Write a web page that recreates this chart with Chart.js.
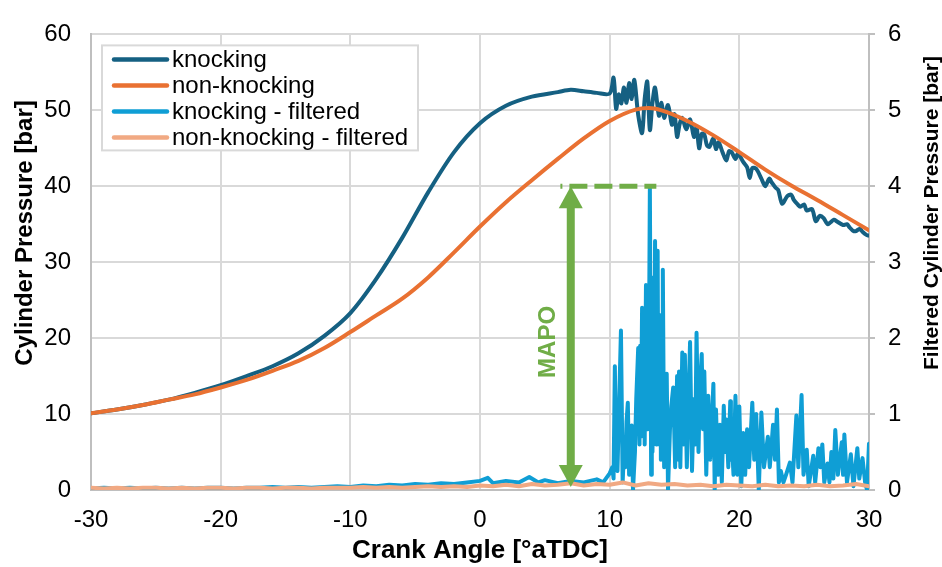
<!DOCTYPE html>
<html lang="en">
<head>
<meta charset="UTF-8">
<title>Cylinder pressure - knocking vs non-knocking</title>
<style>
  body { margin: 0; background: #fff; }
  canvas { display: block; }
</style>
</head>
<body>
<canvas id="pressureChart" width="942" height="567"></canvas>
<script src="https://cdn.jsdelivr.net/npm/chart.js@4"></script>
<script>
// tick labels
const xTicks = [-30, -20, -10, 0, 10, 20, 30];
const leftTicks = [0, 10, 20, 30, 40, 50, 60];
const rightTicks = [0, 1, 2, 3, 4, 5, 6];

// cylinder pressure, knocking cycle [bar]
const knockAngles = [-30, -28, -26, -24, -22, -20, -18, -16, -14, -12, -10, -8, -6, -4, -2, 0, 2, 4, 6, 7, 8, 9, 10,
  10.3, 10.5, 10.7, 10.9, 11.1, 11.3, 11.5, 11.7, 11.9, 12.2, 12.5, 12.7, 12.9, 13.1, 13.3, 13.5, 13.8, 14.0, 14.2, 14.5,
  14.8, 15.0, 15.2, 15.4, 15.6, 15.9, 16.2, 16.5, 16.7, 16.9, 17.1, 17.3, 17.5, 17.7, 18.0, 18.2, 18.4, 18.7, 19.0, 19.2,
  19.4, 19.7, 19.9, 20.3, 20.6, 20.8, 21.0, 21.3, 21.7, 22.0, 22.3, 22.5, 22.8, 23.0, 23.3, 23.7, 24.0, 24.2, 24.5, 24.7,
  25.0, 25.2, 25.6, 25.9, 26.2, 26.5, 26.8, 27.0, 27.3, 27.5, 28.0, 28.3, 28.5, 28.8, 29.0, 29.3, 29.5, 29.8, 30.0];
const knockPressure = [10.1, 10.6, 11.2, 11.9, 12.8, 13.8, 15.0, 16.3, 18.0, 20.3, 23.3, 27.8, 33.2, 39.2, 44.5, 48.3, 50.6, 51.8, 52.4, 52.7, 52.5, 52.3, 52.2,
  54.3, 50.2, 52.1, 50.9, 53.0, 51.0, 53.6, 51.5, 54.0, 49.4, 47.0, 51.5, 53.8, 47.4, 51.0, 53.0, 49.3, 51.0, 49.0, 50.7,
  48.1, 49.5, 46.5, 48.2, 49.0, 47.5, 48.8, 46.5, 47.8, 45.0, 46.9, 46.8, 45.4, 45.2, 46.3, 44.9, 45.8, 44.5, 43.4, 44.6,
  44.5, 43.6, 44.3, 43.2, 42.5, 41.1, 42.4, 42.3, 41.0, 40.0, 41.0, 40.5, 39.8, 39.5, 37.7, 38.7, 38.9, 38.2, 37.6, 37.3,
  37.6, 36.8, 37.0, 35.4, 36.1, 35.8, 35.0, 35.2, 35.6, 35.4, 34.9, 35.0, 34.6, 34.1, 34.1, 34.4, 34.0, 33.6, 33.5];

// cylinder pressure, non-knocking cycle [bar]
const nonKnockAngles = [-30, -28, -26, -24, -22, -20, -18, -16, -14, -12, -10, -8, -6, -4, -2, 0, 2, 4, 6, 8, 10, 12, 13, 14, 16, 18, 20, 22, 24, 26, 28, 30];
const nonKnockPressure = [10.1, 10.6, 11.2, 11.9, 12.6, 13.5, 14.5, 15.7, 17.0, 18.7, 20.8, 23.0, 25.2, 28.0, 31.3, 34.7, 37.9, 40.8, 43.6, 46.3, 48.6, 50.1, 50.3, 50.0, 48.6, 46.7, 44.5, 42.2, 40.1, 38.2, 36.2, 34.2];

// band-pass filtered pressure, knocking cycle [bar]
const knockFiltAngles = [-30, -29, -28, -27, -26, -25, -24, -23, -22, -21, -20, -19, -18, -17, -16, -15, -14, -13, -12, -11,
  -10, -9, -8, -7, -6, -5, -4, -3, -2, -1,
  0, 0.6, 1, 2, 3, 3.8, 4.5, 5, 6, 7, 8, 9, 9.5, 10, 10.2, 10.3, 10.4, 10.5, 10.6, 10.87,
  11.0, 11.1, 11.2, 11.3, 11.4, 11.5, 11.6, 11.7, 11.8, 11.95, 12.05, 12.2, 12.3, 12.35, 12.4, 12.5, 12.6, 12.65, 12.7, 12.8,
  12.9, 12.95, 13.0, 13.1, 13.2, 13.25, 13.3, 13.35, 13.4, 13.45, 13.5, 13.6, 13.65, 13.7, 13.75, 13.8, 13.85, 13.9, 13.95, 14.0,
  14.05, 14.1, 14.2, 14.3, 14.4, 14.5, 14.65, 14.75, 14.9, 15.05, 15.2, 15.3, 15.35, 15.45, 15.6, 15.7, 15.8, 15.95, 16.05, 16.2,
  16.35, 16.5, 16.6, 16.7, 16.85, 16.95,
  17.1, 17.2, 17.3, 17.45, 17.6, 17.75, 18.0, 18.1, 18.2, 18.35, 18.5, 18.65, 18.8, 18.9, 19.0, 19.15, 19.3, 19.35, 19.4,
  19.55, 19.7, 19.85, 20.0, 20.15, 20.3, 20.45, 20.6, 20.75, 21.0, 21.15, 21.3, 21.5, 21.7, 21.9, 22.2, 22.35, 22.6, 22.75, 22.9,
  23.05, 23.2, 23.4, 23.6, 23.9, 24.1, 24.4, 24.55, 24.8, 24.95, 25.2, 25.35, 25.7, 25.85, 26.1, 26.25, 26.4, 26.55, 26.8, 26.95,
  27.1, 27.25, 27.4, 27.6, 27.9, 28.0, 28.1, 28.3, 28.6, 28.8, 29.1, 29.25, 29.5, 29.7, 29.85, 30.0];
const knockFiltered = [0.02, 0.03, 0.02, 0.03, 0.02, 0.03, 0.02, 0.03, 0.02, 0.03, 0.03, 0.02, 0.03, 0.03, 0.04, 0.03, 0.04, 0.03, 0.04, 0.05,
  0.04, 0.06, 0.05, 0.07, 0.06, 0.08, 0.07, 0.09, 0.08, 0.10,
  0.12, 0.16, 0.09, 0.12, 0.10, 0.17, 0.10, 0.13, 0.09, 0.12, 0.10, 0.14, 0.10, 0.22, 0.30, 0.15, 1.63, 0.30, 0.25, 2.10,
  0.10, 0.50, 0.30, 0.90, 1.15, 0.20, 0.70, 0.85, 0.00, 0.50, 1.20, 1.87, 0.60, 1.90, 0.70, 2.40, 0.90, 2.20, 0.60, 2.70,
  0.80, 2.50, 0.90, 4.00, 0.20, 2.80, 0.50, 1.00, 2.60, 0.80, 3.28, 0.60, 2.20, 3.15, 1.00, 2.00, 0.60, 2.30, 0.40, 1.80,
  0.50, 2.90, 0.30, 1.20, 1.53, 0.00, 0.80, 1.10, 1.35, 0.30, 1.50, 0.40, 1.56, 0.30, 1.81, 0.60, 1.78, 0.30, 1.00, 1.95,
  0.25, 1.20, 0.60, 2.07, 0.50, 1.30,
  1.79, 0.80, 1.56, 0.20, 1.24, 0.40, 1.40, 0.00, 1.06, 0.20, 0.86, 0.10, 1.11, 0.50, 0.93, 0.30, 1.17, 0.40, 0.73,
  0.20, 1.24, 0.20, 1.10, 0.05, 0.75, 0.20, 0.80, 0.30, 1.15, 0.40, 1.00, 0.00, 1.02, 0.30, 0.70, 0.30, 0.86, 0.40, 1.06,
  0.10, 0.25, 0.10, 0.20, 0.36, 0.10, 0.98, 0.30, 1.25, 0.20, 0.53, 0.05, 0.45, 0.10, 0.55, 0.30, 0.60, 0.10, 0.35, 0.10,
  0.50, 0.15, 0.79, 0.20, 0.63, 0.20, 0.73, 0.10, 0.47, 0.05, 0.55, 0.15, 0.42, 0.10, 0.00, 0.61];

// band-pass filtered pressure, non-knocking cycle [bar], one value per degree
const nonKnockFiltAngles = Array.from({length: 61}, (_, i) => i - 30);
const nonKnockFiltered = [0.03, 0.02, 0.03, 0.02, 0.03, 0.03, 0.02, 0.03, 0.02, 0.03,
  0.03, 0.02, 0.03, 0.03, 0.02, 0.03, 0.03, 0.02, 0.03, 0.03,
  0.03, 0.04, 0.03, 0.04, 0.03, 0.04, 0.05, 0.04, 0.05, 0.04,
  0.06, 0.05, 0.07, 0.05, 0.08, 0.06, 0.07, 0.09, 0.06, 0.08,
  0.07, 0.10, 0.06, 0.09, 0.07, 0.08, 0.06, 0.07, 0.05, 0.07,
  0.06, 0.05, 0.07, 0.05, 0.06, 0.05, 0.07, 0.05, 0.06, 0.08,
  0.05];

// MAPO marker (crank angle / bar on the left axis)
const mapoAngle = 7.0;
const mapoLevel = 40;
const mapoDashFrom = 6.2;
const mapoDashTo = 13.6;

const green = '#70AD47';
const fontFamily = "'Liberation Sans', Arial, sans-serif";
Chart.defaults.font.family = fontFamily;
Chart.defaults.color = '#000';

function pairs(xs, ys) {
  return xs.map((x, i) => ({x: x, y: ys[i]}));
}

const overlay = {
  id: 'overlay',
  afterDatasetsDraw(chart) {
    const ctx = chart.ctx;
    const x = chart.scales.x, y = chart.scales.y;
    const area = chart.chartArea;
    ctx.save();

    // dashed level line
    const lvl = y.getPixelForValue(mapoLevel);
    ctx.strokeStyle = green;
    ctx.lineWidth = 5;
    ctx.setLineDash([18, 7]);
    ctx.lineDashOffset = 16;
    ctx.beginPath();
    ctx.moveTo(x.getPixelForValue(mapoDashFrom), lvl);
    ctx.lineTo(x.getPixelForValue(mapoDashTo), lvl);
    ctx.stroke();

    // double arrow
    const ax = x.getPixelForValue(mapoAngle);
    const bot = y.getPixelForValue(0.4);
    const head = 22, half = 12;
    ctx.setLineDash([]);
    ctx.lineWidth = 8;
    ctx.beginPath();
    ctx.moveTo(ax, lvl + head - 2);
    ctx.lineTo(ax, bot - head + 2);
    ctx.stroke();
    ctx.fillStyle = green;
    ctx.beginPath();
    ctx.moveTo(ax, lvl);
    ctx.lineTo(ax - half, lvl + head);
    ctx.lineTo(ax + half, lvl + head);
    ctx.closePath();
    ctx.fill();
    ctx.beginPath();
    ctx.moveTo(ax, bot);
    ctx.lineTo(ax - half, bot - head);
    ctx.lineTo(ax + half, bot - head);
    ctx.closePath();
    ctx.fill();

    // MAPO label
    ctx.save();
    ctx.translate(ax - 23, y.getPixelForValue(19.5));
    ctx.rotate(-Math.PI / 2);
    ctx.font = 'bold 24px ' + fontFamily;
    ctx.textAlign = 'center';
    ctx.textBaseline = 'middle';
    ctx.fillText('MAPO', 0, 1);
    ctx.restore();

    // legend box
    const bx = area.left + 11, by = area.top + 11, bw = 316, bh = 105;
    ctx.fillStyle = '#fff';
    ctx.fillRect(bx, by, bw, bh);
    ctx.strokeStyle = '#d9d9d9';
    ctx.lineWidth = 2;
    ctx.strokeRect(bx, by, bw, bh);
    ctx.font = '24px ' + fontFamily;
    ctx.textAlign = 'left';
    ctx.textBaseline = 'middle';
    ctx.lineCap = 'round';
    chart.data.datasets.forEach((ds, i) => {
      const ry = by + 14 + i * 26;
      ctx.strokeStyle = ds.borderColor;
      ctx.lineWidth = 4.5;
      ctx.beginPath();
      ctx.moveTo(bx + 12, ry);
      ctx.lineTo(bx + 65, ry);
      ctx.stroke();
      ctx.fillStyle = '#000';
      ctx.fillText(ds.label, bx + 70, ry + 1);
    });
    ctx.restore();
  },
  afterDraw(chart) {
    const ctx = chart.ctx;
    ctx.save();
    ctx.fillStyle = '#000';
    ctx.textAlign = 'center';
    ctx.textBaseline = 'middle';
    ctx.font = 'bold 24px ' + fontFamily;
    ctx.translate(25, 233);
    ctx.rotate(-Math.PI / 2);
    ctx.fillText('Cylinder Pressure [bar]', 0, 0);
    ctx.restore();
    ctx.save();
    ctx.fillStyle = '#000';
    ctx.textAlign = 'center';
    ctx.textBaseline = 'middle';
    ctx.font = 'bold 21px ' + fontFamily;
    ctx.translate(932, 213);
    ctx.rotate(-Math.PI / 2);
    ctx.fillText('Filtered Cylinder Pressure [bar]', 0, 0);
    ctx.restore();
  }
};

const gridColor = '#d9d9d9';
const axisColor = '#bfbfbf';

new Chart(document.getElementById('pressureChart'), {
  type: 'line',
  data: {
    datasets: [
      {label: 'knocking', data: pairs(knockAngles, knockPressure), yAxisID: 'y',
        borderColor: '#156082', borderWidth: 4, tension: 0.3, order: 2},
      {label: 'non-knocking', data: pairs(nonKnockAngles, nonKnockPressure), yAxisID: 'y',
        borderColor: '#E97132', borderWidth: 4, cubicInterpolationMode: 'monotone', order: 1},
      {label: 'knocking - filtered', data: pairs(knockFiltAngles, knockFiltered), yAxisID: 'y2',
        borderColor: '#0F9ED5', borderWidth: 4, tension: 0, order: 4},
      {label: 'non-knocking - filtered', data: pairs(nonKnockFiltAngles, nonKnockFiltered), yAxisID: 'y2',
        borderColor: '#F1A983', borderWidth: 4, tension: 0, order: 3}
    ]
  },
  options: {
    responsive: false,
    animation: false,
    events: [],
    layout: {padding: {top: 20, left: 0, right: 0, bottom: 0}},
    elements: {point: {radius: 0}, line: {borderJoinStyle: 'round', borderCapStyle: 'round'}},
    plugins: {legend: {display: false}, tooltip: {enabled: false}},
    scales: {
      x: {
        type: 'linear', min: -30, max: 30,
        afterBuildTicks: s => { s.ticks = xTicks.map(v => ({value: v})); },
        afterFit: s => { s.height = 77; },
        ticks: {font: {size: 24}, padding: 16, maxRotation: 0},
        grid: {color: gridColor, lineWidth: 2, drawTicks: false},
        border: {color: axisColor, width: 2},
        title: {display: true, text: 'Crank Angle [°aTDC]', font: {size: 26, weight: 'bold'}, padding: {top: 0, bottom: 1}}
      },
      y: {
        position: 'left', min: 0, max: 60,
        afterBuildTicks: s => { s.ticks = leftTicks.map(v => ({value: v})); },
        afterFit: s => { s.width = 91; },
        ticks: {font: {size: 24}, padding: 20},
        grid: {color: gridColor, lineWidth: 2, drawTicks: false},
        border: {color: axisColor, width: 2}
      },
      y2: {
        position: 'right', min: 0, max: 6,
        afterBuildTicks: s => { s.ticks = rightTicks.map(v => ({value: v})); },
        afterFit: s => { s.width = 73; },
        ticks: {font: {size: 24}, padding: 13},
        grid: {drawOnChartArea: false, color: axisColor, lineWidth: 2, tickLength: 6},
        border: {color: axisColor, width: 2}
      }
    }
  },
  plugins: [overlay]
});
</script>
</body>
</html>
